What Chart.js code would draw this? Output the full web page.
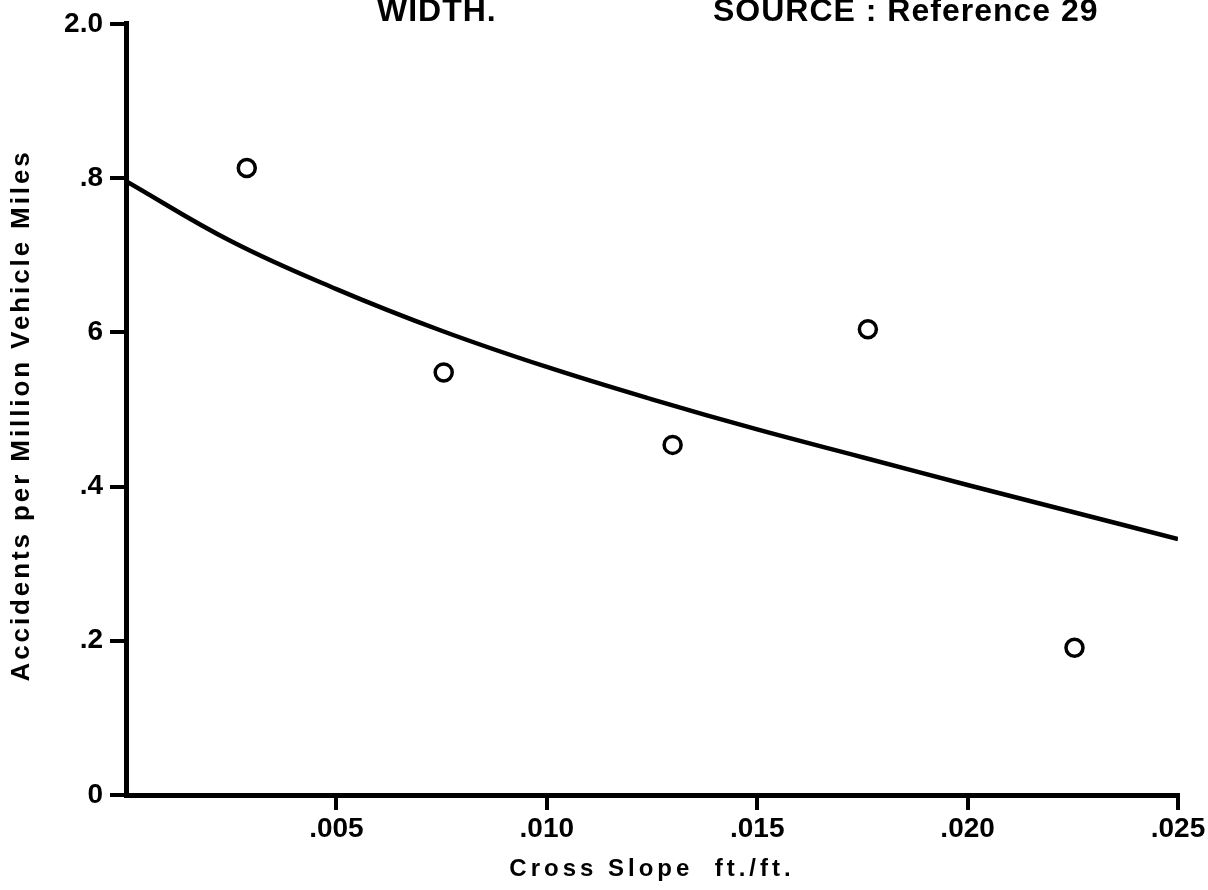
<!DOCTYPE html>
<html>
<head>
<meta charset="utf-8">
<script src="https://cdn.jsdelivr.net/npm/chart.js@4/dist/chart.umd.min.js"></script>
<style>
  html, body { margin: 0; padding: 0; background: #fff; }
  canvas { display: block; }
</style>
</head>
<body>
<canvas id="chart" width="1208" height="890"></canvas>
<script>
// --- data ---
const xTicks = [0, 0.005, 0.010, 0.015, 0.020, 0.025];
const xTickLabels = ['', '.005', '.010', '.015', '.020', '.025'];
const yTicks = [0, 0.2, 0.4, 0.6, 0.8, 1.0];
const yTickLabels = ['0', '.2', '.4', '6', '.8', '2.0']; // printed as on the original

const crossSlope = [0.00287, 0.00755, 0.01299, 0.01763, 0.02254];
const accidentRate = [0.813, 0.548, 0.454, 0.604, 0.191];

const fitSlope = [0, 0.0025, 0.005, 0.0075, 0.010, 0.0125, 0.015, 0.0175, 0.020, 0.0225, 0.025];
const fitRate = [0.796, 0.718, 0.656, 0.602, 0.555, 0.513, 0.474, 0.438, 0.402, 0.367, 0.332];

const xTitle = 'Cross Slope  ft./ft.';
const yTitle = 'Accidents per Million Vehicle Miles';
const headerLeft = 'WIDTH.';
const headerRight = 'SOURCE : Reference 29';

const FONT = '"Liberation Sans", Arial, sans-serif';

// axis titles + clipped header, letter-spaced like the typed original
const paperText = {
    id: 'paperText',
    afterDraw(chart) {
        const { ctx, chartArea } = chart;
        ctx.save();
        ctx.fillStyle = '#000';
        ctx.textBaseline = 'alphabetic';

        ctx.font = 'bold 32px ' + FONT;
        ctx.letterSpacing = '1px';
        ctx.textAlign = 'left';
        ctx.fillText(headerLeft, 377, 21);
        ctx.fillText(headerRight, 713, 21);

        ctx.font = 'bold 24px ' + FONT;
        ctx.letterSpacing = '4px';
        ctx.textAlign = 'center';
        ctx.fillText(xTitle, (chartArea.left + chartArea.right) / 2, 876);

        ctx.translate(22, (chartArea.top + chartArea.bottom) / 2 + 6);
        ctx.rotate(-Math.PI / 2);
        ctx.font = 'bold 26px ' + FONT;
        ctx.letterSpacing = '2.9px';
        ctx.textBaseline = 'middle';
        ctx.fillText(yTitle, 0, 0);
        ctx.restore();
    }
};

const ctx = document.getElementById('chart').getContext('2d');

new Chart(ctx, {
    type: 'scatter',
    data: {
        datasets: [
            {
                label: 'Observed',
                data: crossSlope.map((x, i) => ({ x, y: accidentRate[i] })),
                pointStyle: 'circle',
                pointRadius: 8.5,
                pointBorderWidth: 3.5,
                pointBackgroundColor: '#fff',
                pointBorderColor: '#000'
            },
            {
                type: 'line',
                label: 'Fitted',
                data: fitSlope.map((x, i) => ({ x, y: fitRate[i] })),
                borderColor: '#000',
                borderWidth: 4.5,
                pointRadius: 0,
                tension: 0.4,
                fill: false
            }
        ]
    },
    options: {
        responsive: false,
        animation: false,
        layout: { padding: { top: 20, right: 30, left: 0, bottom: 0 } },
        plugins: {
            legend: { display: false },
            tooltip: { enabled: false },
            title: { display: false }
        },
        scales: {
            x: {
                type: 'linear',
                min: 0,
                max: 0.025,
                afterFit: s => { s.height = 95; },
                afterBuildTicks: s => { s.ticks = xTicks.map(v => ({ value: v })); },
                grid: {
                    drawOnChartArea: false,
                    drawTicks: true,
                    tickLength: 15,
                    lineWidth: 4,
                    color: c => (c.index === 0 ? 'rgba(0,0,0,0)' : '#000')
                },
                border: { display: true, color: '#000', width: 5 },
                ticks: {
                    color: '#000',
                    padding: 2,
                    maxRotation: 0,
                    autoSkip: false,
                    font: { family: FONT, size: 28, weight: 'bold' },
                    callback: (v, i) => xTickLabels[i]
                },
                title: { display: false }
            },
            y: {
                min: 0,
                max: 1.0,
                afterFit: s => { s.width = 126; },
                afterBuildTicks: s => { s.ticks = yTicks.map(v => ({ value: v })); },
                grid: {
                    drawOnChartArea: false,
                    drawTicks: true,
                    tickLength: 16,
                    lineWidth: 4,
                    color: '#000'
                },
                border: { display: true, color: '#000', width: 5 },
                ticks: {
                    color: '#000',
                    padding: 7,
                    autoSkip: false,
                    font: { family: FONT, size: 28, weight: 'bold' },
                    callback: (v, i) => yTickLabels[i]
                },
                title: { display: false }
            }
        }
    },
    plugins: [paperText]
});
</script>
</body>
</html>
